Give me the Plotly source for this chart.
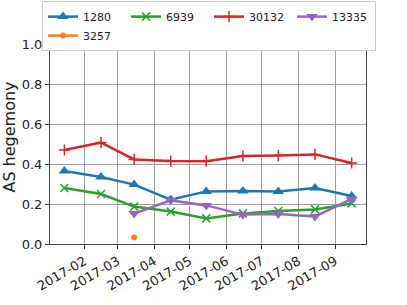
import plotly.graph_objects as go

months = ["2017-01-15", "2017-02-15", "2017-03-15", "2017-04-15", "2017-05-15",
          "2017-06-15", "2017-07-15", "2017-08-15", "2017-09-15"]
as_1280 = [0.365, 0.335, 0.297, 0.222, 0.263, 0.265, 0.262, 0.280, 0.240]
as_6939 = [0.280, 0.250, 0.187, 0.162, 0.128, 0.153, 0.165, 0.173, 0.203]
as_30132 = [0.470, 0.507, 0.423, 0.415, 0.414, 0.440, 0.442, 0.448, 0.405]
months_13335 = months[2:]
as_13335 = [0.152, 0.218, 0.193, 0.147, 0.150, 0.137, 0.225]
months_3257 = ["2017-03-15"]
as_3257 = [0.033]
tick_vals = ["2017-02-01", "2017-03-01", "2017-04-01", "2017-05-01",
             "2017-06-01", "2017-07-01", "2017-08-01", "2017-09-01"]

series = [
    ("1280", months, as_1280, "#1f77b4", "triangle-up", 10, 0),
    ("6939", months, as_6939, "#2ca02c", "x-thin", 8, 1.5),
    ("30132", months, as_30132, "#d62728", "cross-thin", 8, 1.5),
    ("13335", months_13335, as_13335, "#9467bd", "triangle-down", 10, 0),
]

fig = go.Figure()
for name, xs, ys, col, sym, sz, lw in series:
    fig.add_trace(go.Scatter(
        x=xs, y=ys, name=name, mode="lines+markers",
        line=dict(color=col, width=2.5),
        marker=dict(symbol=sym, size=sz, color=col, line=dict(color=col, width=lw)),
    ))
fig.add_trace(go.Scatter(
    x=months_3257, y=as_3257, name="3257", mode="lines+markers",
    line=dict(color="#ff7f0e", width=2.5),
    marker=dict(symbol="circle", size=6, color="#ff7f0e"),
))

fig.update_layout(
    width=407, height=305,
    margin=dict(l=50, r=41, t=30, b=61, autoexpand=False),
    paper_bgcolor="white", plot_bgcolor="white",
    font=dict(family="DejaVu Sans", size=13, color="#222"),
    legend=dict(
        orientation="h", x=-0.0253, xanchor="left", y=1.135, yanchor="top",
        bgcolor="white", bordercolor="#cccccc", borderwidth=1,
        font=dict(size=11), entrywidth=38, entrywidthmode="pixels",
        tracegroupgap=0, itemwidth=30,
    ),
    xaxis=dict(
        type="date",
        range=["2017-01-02 20:24", "2017-09-27 03:36"],
        tickvals=tick_vals, tickformat="%Y-%m", tickangle=-30,
        showgrid=True, gridcolor="#a0a0a0", gridwidth=1,
        ticks="outside", ticklen=4, tickcolor="#333",
        showline=True, linecolor="#444", linewidth=1, mirror=True,
        zeroline=False,
    ),
    yaxis=dict(
        range=[0, 1.07],
        tickvals=[0, 0.2, 0.4, 0.6, 0.8, 1.0], tickformat=".1f",
        title=dict(text="AS hegemony", standoff=4),
        showgrid=True, gridcolor="#a0a0a0", gridwidth=1,
        ticks="outside", ticklen=4, tickcolor="#333",
        showline=True, linecolor="#444", linewidth=1, mirror=True,
        zeroline=False,
    ),
)

fig.write_html("out.html", config={"displayModeBar": False},
               post_script="document.body.style.margin='0';")
